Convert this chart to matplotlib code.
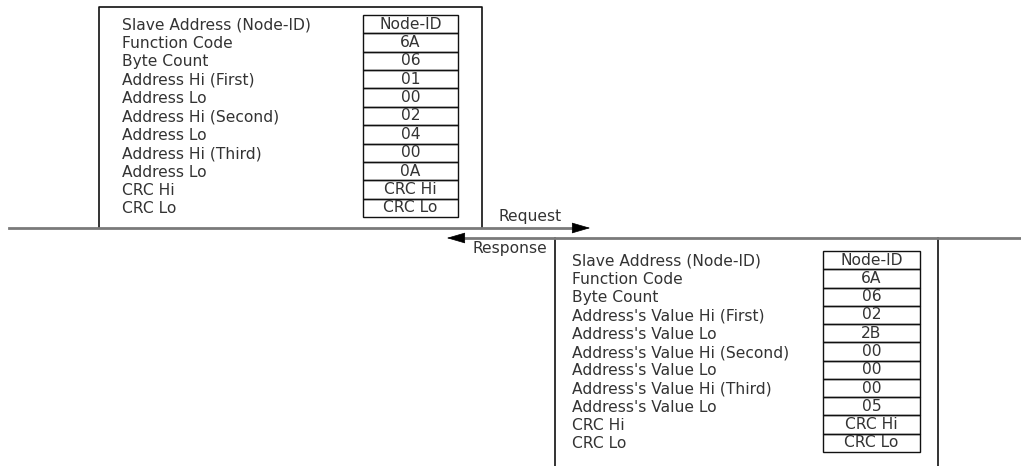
import matplotlib
matplotlib.use('Agg')
from matplotlib import pyplot as plt
from matplotlib.patches import Rectangle

req_labels = ['Slave Address (Node-ID)', 'Function Code', 'Byte Count',
              'Address Hi (First)', 'Address Lo', 'Address Hi (Second)',
              'Address Lo', 'Address Hi (Third)', 'Address Lo', 'CRC Hi', 'CRC Lo']
req_values = ['Node-ID', '6A', '06', '01', '00', '02', '04', '00', '0A', 'CRC Hi', 'CRC Lo']

resp_labels = ['Slave Address (Node-ID)', 'Function Code', 'Byte Count',
               "Address's Value Hi (First)", "Address's Value Lo",
               "Address's Value Hi (Second)", "Address's Value Lo",
               "Address's Value Hi (Third)", "Address's Value Lo", 'CRC Hi', 'CRC Lo']
resp_values = ['Node-ID', '6A', '06', '02', '2B', '00', '00', '00', '05', 'CRC Hi', 'CRC Lo']

plt.rcParams['font.family'] = ['DejaVu Sans']

W, H = 1021, 466
fig = plt.figure(figsize=(W / 100, H / 100), dpi=100)
ax = fig.add_axes([0, 0, 1, 1])
ax.set_xlim(0, W)
ax.set_ylim(H, 0)
ax.axis('off')

FS = 11.2
TXT = '#333333'


def frame(labels, values, lx, cx0, cx1, top, bottom):
    rh = (bottom - top) / len(labels)
    for i, (lab, val) in enumerate(zip(labels, values)):
        y0 = top + i * rh
        ax.add_patch(Rectangle((cx0, y0), cx1 - cx0, rh, fill=False,
                               edgecolor='#111111', lw=1.0))
        ax.text(lx, y0 + rh / 2 + 1, lab, fontsize=FS, color=TXT,
                ha='left', va='center')
        ax.text((cx0 + cx1) / 2, y0 + rh / 2, val, fontsize=FS, color=TXT,
                ha='center', va='center')


# request box
ax.plot([99, 99, 482, 482], [228, 7, 7, 228], color='#111111', lw=1.2)
frame(req_labels, req_values, 122, 363, 458, 15, 217)

# response box
ax.plot([555, 555], [238, 466], color='#111111', lw=1.2)
ax.plot([938, 938], [238, 466], color='#111111', lw=1.2)
frame(resp_labels, resp_values, 572, 823, 920, 251, 452)

# arrows
ax.plot([9, 580], [228, 228], color='#7a7a7a', lw=2)
ax.annotate('', xy=(593, 228), xytext=(575, 228),
            arrowprops=dict(arrowstyle='-|>,head_length=1.2,head_width=0.35',
                            color='black', lw=0.5))
ax.plot([458, 1021], [238, 238], color='#7a7a7a', lw=2)
ax.annotate('', xy=(444, 238), xytext=(462, 238),
            arrowprops=dict(arrowstyle='-|>,head_length=1.2,head_width=0.35',
                            color='black', lw=0.5))

ax.text(498, 216, 'Request', fontsize=FS, color=TXT, ha='left', va='center')
ax.text(472, 249, 'Response', fontsize=FS, color=TXT, ha='left', va='center')

fig.savefig('out.png', dpi=100)
